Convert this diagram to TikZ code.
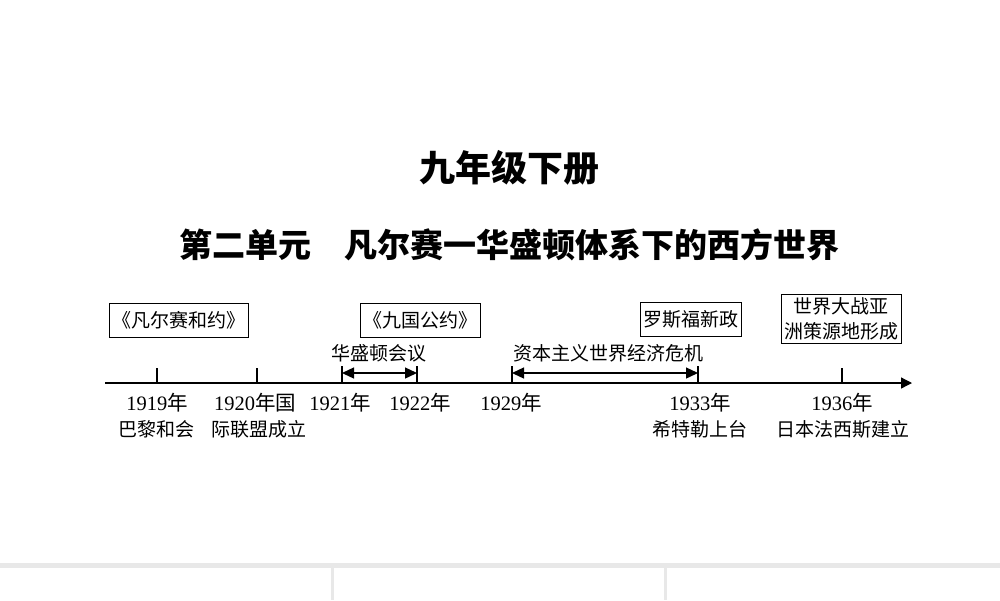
\documentclass[tikz,border=0pt]{standalone}
\usepackage{fontspec}
\setmainfont{Liberation Serif}
\newfontfamily\cjk{Noto Sans CJK SC}
\usetikzlibrary{arrows.meta}
\begin{document}
\begin{tikzpicture}[x=1pt,y=-1pt,
  lab/.style={font=\cjk\fontsize{19}{22}\selectfont, inner sep=0pt},
  yr/.style={font=\fontsize{20.5}{22}\selectfont, inner sep=0pt},
  evbox/.style={draw, line width=0.8pt, minimum height=34pt, inner sep=3pt, font=\cjk\fontsize{19}{22}\selectfont},
  tl/.style={line width=1.3pt}]
\useasboundingbox (0,0) rectangle (1000,600);
\fill[white] (0,0) rectangle (1000,600);
% bottom grey band
\fill[gray!18] (0,563) rectangle (1000,568);
\fill[gray!18] (331,568) rectangle (333.5,600);
\fill[gray!18] (664,568) rectangle (666.5,600);
% titles
\node (t1) at (509,168) {\cjk\bfseries\fontsize{36}{40}\selectfont 九年级下册};
\node (t2) at (509,245) {\cjk\bfseries\fontsize{33}{38}\selectfont 第二单元\quad 凡尔赛一华盛顿体系下的西方世界};
% axis
\coordinate (a0) at (105,383);
\coordinate (a1) at (912,383);
\draw[tl,-{Triangle[length=11pt,width=11pt]}] (a0) -- (a1);
% ticks
\foreach \n/\x in {p1919/157,p1920/257,p1936/842}{
  \coordinate (\n) at (\x,383);
  \draw[tl] (\n) -- ++(0,-15);}
\foreach \n/\x in {p1921/342,p1922/417,p1929/512,p1933/698}{
  \coordinate (\n) at (\x,383);
  \draw[tl] (\n) -- ++(0,-17);}
\coordinate (w1) at (342,373); \coordinate (w2) at (417,373);
\coordinate (c1) at (512,373); \coordinate (c2) at (698,373);
\draw[tl,{Triangle[length=12pt,width=11pt]}-{Triangle[length=12pt,width=11pt]}] (w1) -- (w2);
\draw[tl,{Triangle[length=12pt,width=11pt]}-{Triangle[length=12pt,width=11pt]}] (c1) -- (c2);
\node[lab] (lw) at (379,353) {华盛顿会议};
\node[lab] (lc) at (608,353) {资本主义世界经济危机};
% boxes
\node[evbox] (b1) at (179,320) {《凡尔赛和约》};
\node[evbox] (b2) at (420,320) {《九国公约》};
\node[evbox] (b3) at (691,319) {罗斯福新政};
\node[draw, line width=0.8pt, inner sep=3pt, align=center, font=\cjk\fontsize{19}{25}\selectfont] (b4) at (841,319) {世界大战亚\\洲策源地形成};
% year labels
\node[yr] (y1919) at (157,403) {1919{\cjk 年}};
\node[lab] (e1919) at (156,429) {巴黎和会};
\node[yr,anchor=west] (y1920) at (214,403) {1920{\cjk 年国}};
\node[lab] (e1920) at (259,429) {际联盟成立};
\node[yr] (y1921) at (340,403) {1921{\cjk 年}};
\node[yr] (y1922) at (420,403) {1922{\cjk 年}};
\node[yr] (y1929) at (511,403) {1929{\cjk 年}};
\node[yr] (y1933) at (700,403) {1933{\cjk 年}};
\node[lab] (e1933) at (700,429) {希特勒上台};
\node[yr] (y1936) at (842,403) {1936{\cjk 年}};
\node[lab] (e1936) at (843,429) {日本法西斯建立};
\end{tikzpicture}
\end{document}
